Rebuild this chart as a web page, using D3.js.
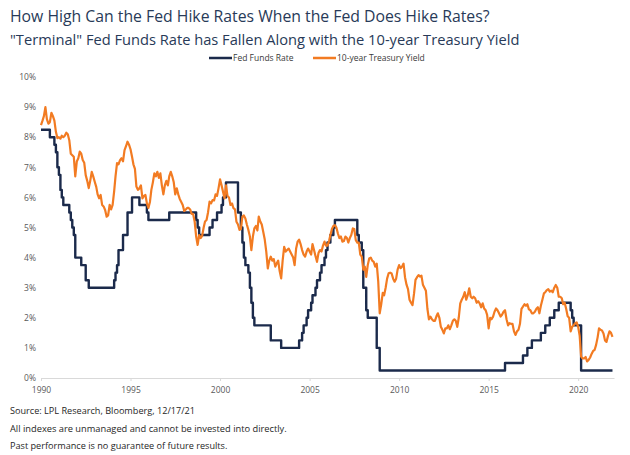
<!DOCTYPE html>
<html><head><meta charset="utf-8">
<script src="https://cdn.jsdelivr.net/npm/d3@7"></script>
<style>
html,body{margin:0;padding:0;background:#fff;}
svg{display:block;}
</style></head>
<body>
<svg id="chart" width="630" height="455"></svg>
<script>
// ---------------- DATA ----------------
const titleText = "How High Can the Fed Hike Rates When the Fed Does Hike Rates?";
const subtitleText = "\"Terminal\" Fed Funds Rate has Fallen Along with the 10-year Treasury Yield";
const seriesNames = ["Fed Funds Rate", "10-year Treasury Yield"];
const footerLines = [
  "Source: LPL Research, Bloomberg, 12/17/21",
  "All indexes are unmanaged and cannot be invested into directly.",
  "Past performance is no guarantee of future results."
];
const yTicks = [0,1,2,3,4,5,6,7,8,9,10];
const xTickYears = [1990,1995,2000,2005,2010,2015,2020];

// Fed funds target (upper bound): month of change and new level
const ffDates = ["1990-01","1990-07","1990-10","1990-11","1990-12","1991-01","1991-02","1991-03","1991-04","1991-08","1991-09","1991-10","1991-11","1991-12","1992-04","1992-07","1992-09",
"1994-02","1994-03","1994-04","1994-05","1994-08","1994-11","1995-02","1995-07","1995-12","1996-01","1997-03","1998-09","1998-10","1998-11","1999-06","1999-08","1999-11","2000-02","2000-03","2000-05",
"2001-01","2001-03","2001-04","2001-05","2001-06","2001-08","2001-09","2001-10","2001-11","2001-12","2002-11","2003-06",
"2004-06","2004-08","2004-09","2004-11","2004-12","2005-02","2005-03","2005-05","2005-06","2005-08","2005-09","2005-11","2005-12","2006-01","2006-03","2006-05","2006-06",
"2007-09","2007-10","2007-12","2008-01","2008-03","2008-04","2008-10","2008-12",
"2015-12","2016-12","2017-03","2017-06","2017-12","2018-03","2018-06","2018-09","2018-12","2019-08","2019-09","2019-10","2020-03","2021-12"];
const ffRates = [8.25,8.00,7.75,7.50,7.00,6.75,6.25,6.00,5.75,5.50,5.25,5.00,4.75,4.00,3.75,3.25,3.00,
3.25,3.50,3.75,4.25,4.75,5.50,6.00,5.75,5.50,5.25,5.50,5.25,5.00,4.75,5.00,5.25,5.50,5.75,6.00,6.50,
5.50,5.00,4.50,4.00,3.75,3.50,3.00,2.50,2.00,1.75,1.25,1.00,
1.25,1.50,1.75,2.00,2.25,2.50,2.75,3.00,3.25,3.50,3.75,4.00,4.25,4.50,4.75,5.00,5.25,
4.75,4.50,4.25,3.00,2.25,2.00,1.00,0.25,
0.50,0.75,1.00,1.25,1.50,1.75,2.00,2.25,2.50,2.25,2.00,1.75,0.25,0.25];

// 10-year Treasury yield, monthly from Jan 1990 to Dec 2021
const tsyStart = "1990-01";
const tsyValues = [
8.40,8.55,8.70,9.00,8.60,8.45,8.50,8.81,8.70,8.55,8.18,7.97,
8.00,7.95,8.05,8.00,8.05,8.15,8.10,7.90,7.45,7.40,7.35,6.70,
7.19,7.30,7.52,7.45,7.24,7.15,6.74,6.55,6.31,6.55,6.85,6.70,
6.52,6.35,6.10,5.97,6.08,5.75,5.70,5.58,5.36,5.40,5.75,5.60,
5.75,6.20,6.70,7.14,7.10,7.24,7.30,7.20,7.57,7.70,7.85,7.75,
7.60,7.35,7.10,6.95,6.36,6.25,6.30,6.40,5.97,6.05,6.08,5.80,
5.65,5.85,6.25,6.50,6.80,6.70,6.85,6.65,6.80,6.40,6.10,6.40,
6.55,6.40,6.70,6.85,6.70,6.50,6.10,6.30,6.10,5.95,5.85,5.75,
5.55,5.60,5.65,5.65,5.60,5.45,5.45,5.20,4.70,4.42,4.75,4.65,
4.72,5.00,5.20,5.25,5.50,5.86,5.80,5.91,5.90,6.10,6.05,6.30,
6.60,6.40,6.20,5.97,6.40,6.05,6.00,5.75,5.80,5.64,5.60,5.19,
5.10,4.92,4.95,5.36,5.40,5.30,5.10,4.92,4.70,4.25,4.70,4.97,
5.05,4.90,5.36,5.20,5.10,4.85,4.60,4.20,3.64,3.90,4.03,3.90,
3.95,3.70,3.80,3.90,3.55,3.31,3.90,4.36,4.20,4.25,4.30,4.20,
4.10,4.00,3.75,4.30,4.53,4.60,4.45,4.25,4.10,4.03,4.20,4.30,
4.20,4.10,4.45,4.25,4.05,3.86,4.15,4.25,4.20,4.40,4.53,4.40,
4.40,4.55,4.75,4.95,5.05,5.08,5.00,4.80,4.65,4.70,4.53,4.55,
4.70,4.65,4.50,4.65,4.75,4.97,4.95,4.58,4.50,4.50,4.10,4.03,
3.60,3.70,3.36,3.75,3.97,4.00,3.90,3.86,3.70,3.80,3.20,2.15,
2.45,2.83,2.75,3.00,3.30,3.48,3.50,3.47,3.30,3.20,3.30,3.60,
3.75,3.65,3.70,3.80,3.35,3.10,2.95,2.60,2.50,2.42,2.80,3.26,
3.35,3.42,3.37,3.40,3.10,3.00,2.90,2.30,1.95,2.04,1.95,1.90,
1.90,2.05,2.15,2.00,1.70,1.60,1.48,1.65,1.65,1.75,1.62,1.75,
1.90,1.95,1.90,1.70,2.00,2.48,2.60,2.70,2.85,2.60,2.75,2.98,
2.70,2.65,2.70,2.65,2.50,2.55,2.48,2.35,2.48,2.31,2.25,2.10,
1.65,2.00,1.95,2.04,2.20,2.31,2.25,2.15,2.04,2.10,2.20,2.25,
1.95,1.75,1.82,1.80,1.80,1.55,1.43,1.55,1.60,1.80,2.30,2.37,
2.45,2.40,2.45,2.28,2.25,2.15,2.15,2.20,2.30,2.35,2.15,2.40,
2.60,2.81,2.85,2.92,2.95,2.87,2.90,2.85,3.00,3.09,3.00,2.70,
2.70,2.65,2.45,2.50,2.30,2.05,2.00,1.55,1.70,1.75,1.82,1.85,
1.70,1.40,0.71,0.65,0.65,0.70,0.55,0.60,0.68,0.80,0.90,0.93,
1.10,1.35,1.65,1.60,1.58,1.48,1.25,1.20,1.40,1.55,1.50,1.37];

// ---------------- DRAW ----------------
const NAVY = "#1b2a4b", ORANGE = "#f27b22", TITLE = "#283a58";
const FONT = "'Open Sans', 'Noto Sans', sans-serif";
const svg = d3.select("#chart");
const parse = d3.timeParse("%Y-%m");

const x = d3.scaleTime().domain([new Date(1990,0,1), new Date(2022,0,1)]).range([41, 614]);
const y = d3.scaleLinear().domain([0,10]).range([378, 77]);

function fit(t, w){
  const cur = t.node().getComputedTextLength();
  const fs = parseFloat(t.attr("font-size"));
  t.attr("font-size", (fs * w / cur).toFixed(2));
}

// titles
fit(svg.append("text").attr("x",10).attr("y",22).attr("font-family",FONT).attr("font-size",18)
  .attr("fill",TITLE).text(titleText), 480);
fit(svg.append("text").attr("x",10).attr("y",45).attr("font-family",FONT).attr("font-size",18)
  .attr("fill",TITLE).text(subtitleText), 510);

// legend
const lg = svg.append("g").attr("font-family",FONT).attr("font-size",8.5).attr("fill","#3a3a3a");
const legendItems = [{name:seriesNames[0], color:NAVY, x0:209}, {name:seriesNames[1], color:ORANGE, x0:313}];
legendItems.forEach(d=>{
  lg.append("line").attr("x1",d.x0).attr("x2",d.x0+23).attr("y1",58).attr("y2",58)
    .attr("stroke",d.color).attr("stroke-width",2.5);
  lg.append("text").attr("x",d.x0+24).attr("y",61).text(d.name);
});

// axes
const yAxis = svg.append("g").attr("transform","translate(36,0)")
  .call(d3.axisLeft(y).tickValues(yTicks).tickFormat(d=>d+"%").tickSize(0).tickPadding(0));
yAxis.select(".domain").remove();
yAxis.selectAll("text").attr("font-family",FONT).attr("font-size",8.5).attr("fill","#595959");

const xAxis = svg.append("g").attr("transform","translate(0,378)")
  .call(d3.axisBottom(x).tickValues(xTickYears.map(yr=>new Date(yr,0,1))).tickFormat(d3.timeFormat("%Y"))
    .tickSize(3).tickSizeOuter(0).tickPadding(6));
xAxis.select(".domain").attr("stroke","#d9d9d9");
xAxis.selectAll(".tick line").attr("stroke","#d9d9d9");
xAxis.selectAll("text").attr("font-family",FONT).attr("font-size",8.5).attr("fill","#595959");

// series
const ffData = ffDates.map((d,i)=>({date:parse(d), v:ffRates[i]}));
const start = parse(tsyStart);
const tsyData = tsyValues.map((v,i)=>({date:d3.timeMonth.offset(start,i), v}));

svg.append("path").datum(ffData)
  .attr("fill","none").attr("stroke",NAVY).attr("stroke-width",2.4).attr("stroke-linejoin","round")
  .attr("d", d3.line().x(d=>x(d.date)).y(d=>y(d.v)).curve(d3.curveStepAfter));

svg.append("path").datum(tsyData)
  .attr("fill","none").attr("stroke",ORANGE).attr("stroke-width",2.2).attr("stroke-linejoin","round")
  .attr("d", d3.line().x(d=>x(d.date)).y(d=>y(d.v)));

// footer
const fw = [185, 277, 218];
footerLines.forEach((s,i)=>{
  fit(svg.append("text").attr("x",10).attr("y",414+i*17.5).attr("font-family",FONT).attr("font-size",8.5)
    .attr("fill","#262626").text(s), fw[i]);
});
</script>
</body></html>
